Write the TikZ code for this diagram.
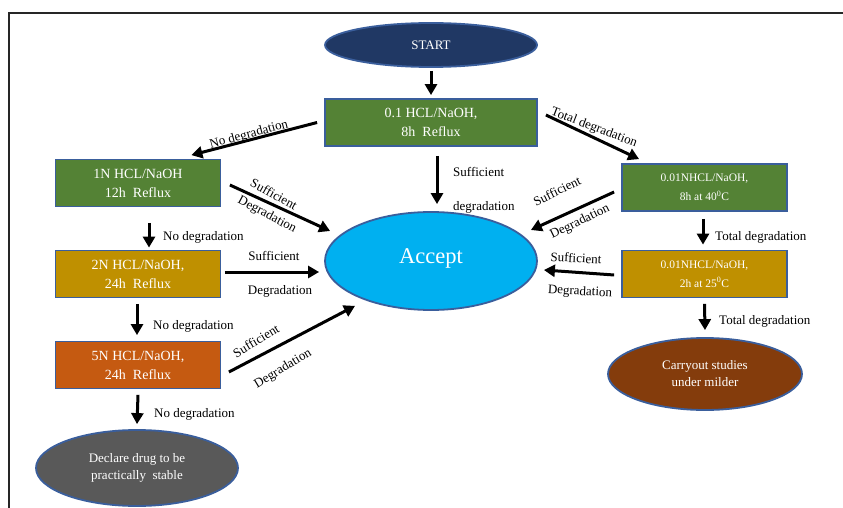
\documentclass[tikz,border=0pt]{standalone}
\usepackage{fontspec}
\setmainfont{Liberation Serif}
\usetikzlibrary{shapes.geometric,arrows.meta,calc}

\definecolor{edgeblue}{HTML}{3A5E9C}
\definecolor{navy}{HTML}{203864}
\definecolor{leaf}{HTML}{548235}
\definecolor{gold}{HTML}{BF9000}
\definecolor{rust}{HTML}{C55A11}
\definecolor{slate}{HTML}{595959}
\definecolor{sky}{HTML}{00B0F0}
\definecolor{brownish}{HTML}{843C0C}

\tikzset{
  stepbox/.style={draw=edgeblue, line width=1.8pt, minimum width=#1, minimum height=47pt,
    inner sep=0pt, text=white, align=center, font=\fontsize{14}{19}\selectfont},
  stepbox/.default=165pt,
  oval/.style={ellipse, draw=edgeblue, line width=1.8pt, inner sep=0pt, text=white, align=center,
    font=\fontsize{13}{17}\selectfont},
  arr/.style={line width=3pt, -{Triangle[length=11pt,width=12pt]}},
  lbl/.style={font=\fontsize{13}{15}\selectfont, inner sep=0pt}
}

\begin{document}
\begin{tikzpicture}[x=1pt, y=-1pt]
\useasboundingbox (0,0) rectangle (843,508);
\fill[white] (0,0) rectangle (843,508);

% page frame
\draw[line width=1.5pt, black!85] (9,508) -- (9,13) -- (843,13);

% nodes
\node[oval, fill=navy, minimum width=212pt, minimum height=44pt] (start) at (431,45) {START};
\node[stepbox=212pt, fill=leaf] (b01) at (431,122.5) {0.1 HCL/NaOH,\\8h\ \ Reflux};
\node[stepbox, fill=leaf] (b1) at (138,183) {1N HCL/NaOH\\12h\ \ Reflux};
\node[stepbox, fill=gold] (b2) at (138,274) {2N HCL/NaOH,\\24h\ \ Reflux};
\node[stepbox, fill=rust] (b5) at (138,365) {5N HCL/NaOH,\\24h\ \ Reflux};
\node[oval, fill=slate, minimum width=202pt, minimum height=76pt] (stable) at (137,468)
  {Declare drug to be\\practically\ \ stable};
\node[oval, fill=sky, minimum width=212pt, minimum height=98pt,
  font=\fontsize{22.5}{26}\selectfont] (accept) at (431,261) {\raisebox{9pt}{Accept}};
\node[stepbox, fill=leaf, font=\fontsize{11.5}{19}\selectfont] (m40) at (704.5,187.5)
  {0.01NHCL/NaOH,\\8h at 40\textsuperscript{0}C};
\node[stepbox, fill=gold, font=\fontsize{11.5}{19}\selectfont] (m25) at (704.5,274)
  {0.01NHCL/NaOH,\\2h at 25\textsuperscript{0}C};
\node[oval, fill=brownish, minimum width=194pt, minimum height=72pt] (milder) at (705,374)
  {Carryout studies\\under milder};

% connectors
\draw[arr] ($(start.south)+(0,3)$) -- ($(b01.north)+(0,-3)$);
\draw[arr] ($(b01.west)+(-7,0)$) -- ($(b1.north east)+(-30,-3.5)$);
\draw[arr] ($(b01.east)+(8,-7.5)$) -- ($(m40.north west)+(18,-4)$);
\draw[arr] ($(b01.south)+(6,9)$) -- ($(accept.north)+(6,-7)$);

\draw[arr] ($(b1.east)+(8.5,2)$) -- ($(accept.west)+(6,-30)$);
\draw[arr] ($(b1.south)+(11,15.5)$) -- ($(b2.north)+(11,-2)$);
\draw[arr] ($(b2.east)+(3.5,-2)$) -- ($(accept.west)+(-5,11)$);
\draw[arr] ($(b2.south)+(-1,5.5)$) -- ($(b5.north)+(-1,-5.5)$);
\draw[arr] ($(b5.east)+(7.5,7)$) -- ($(accept.south)+(-76,-5)$);
\draw[arr] ($(b5.south)+(0,5.5)$) -- ($(stable.north)+(0,-5)$);

\draw[arr] ($(m40.west)+(-7,4.5)$) -- ($(accept.east)+(-7,-31)$);
\draw[arr] ($(m40.south)+(-1.5,7)$) -- ($(m25.north)+(-1.5,-5)$);
\draw[arr] ($(m25.west)+(-7,1)$) -- ($(accept.east)+(6,9)$);
\draw[arr] ($(m25.south)+(0,5.5)$) -- ($(milder.north)+(0,-7)$);

% connector labels
\node[lbl, rotate=15] (l1) at (249,135) {No degradation};
\node[lbl, rotate=-21] (l2) at (594,128) {Total degradation};
\node[lbl, anchor=west] (l3) at (453,172) {Sufficient};
\node[lbl, anchor=west] (l4) at (453,207) {degradation};

\node[lbl, rotate=-29] (l5) at (274,194) {Sufficient};
\node[lbl, rotate=-28] (l6) at (267,215) {Degradation};
\node[lbl, anchor=west] (l7) at (163,237) {No degradation};
\node[lbl] (l8) at (274,256) {Sufficient};
\node[lbl] (l9) at (280,291) {Degradation};
\node[lbl, anchor=west] (l10) at (153,326) {No degradation};
\node[lbl, rotate=31] (l11) at (256,341) {Sufficient};
\node[lbl, rotate=31] (l12) at (283,369) {Degradation};
\node[lbl, anchor=west] (l13) at (154,414) {No degradation};

\node[lbl, rotate=26] (l14) at (557,191) {Sufficient};
\node[lbl, rotate=26] (l15) at (580,222) {Degradation};
\node[lbl, anchor=west] (l16) at (715,237) {Total degradation};
\node[lbl, rotate=-3] (l17) at (576,258) {Sufficient};
\node[lbl, rotate=-3] (l18) at (580,292) {Degradation};
\node[lbl, anchor=west] (l19) at (719,321) {Total degradation};
\end{tikzpicture}
\end{document}
